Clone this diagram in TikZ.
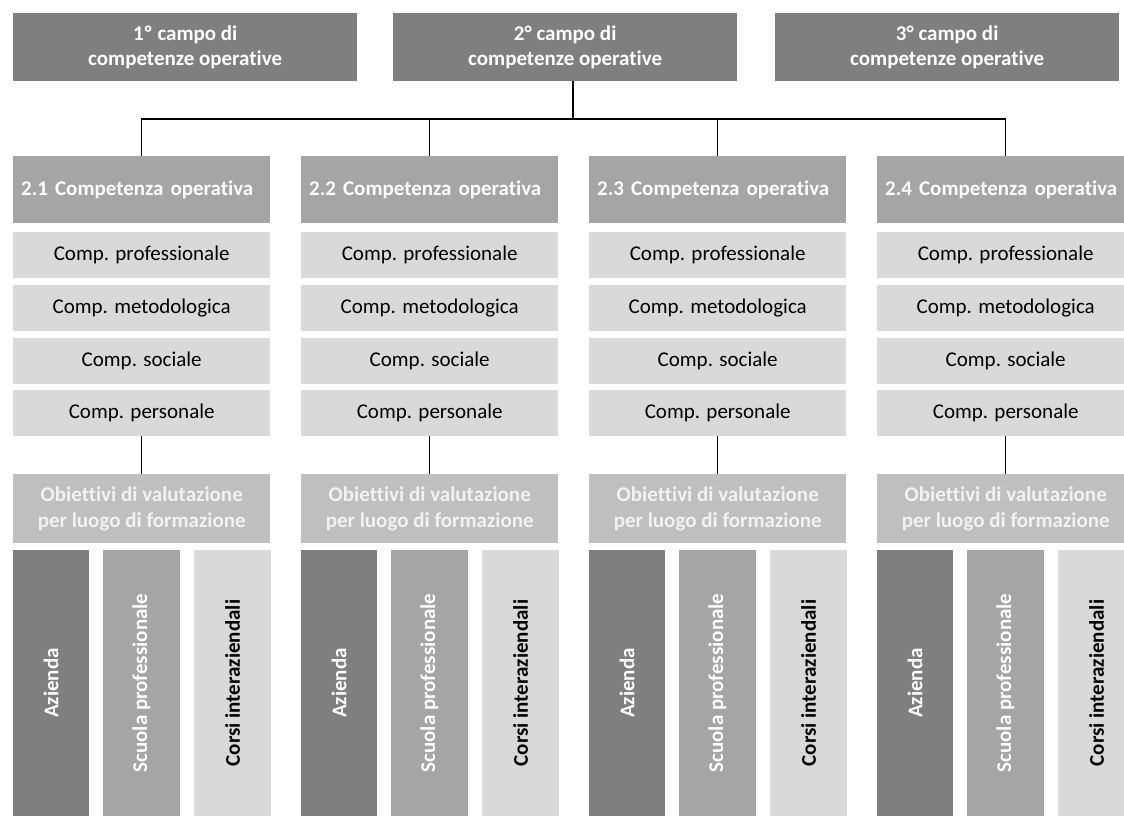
\documentclass[tikz,border=0pt]{standalone}
\usepackage{fontspec}
\setmainfont{Carlito}[Ligatures=NoCommon]
\definecolor{campogray}{HTML}{7F7F7F}
\definecolor{compgray}{HTML}{A5A5A5}
\definecolor{rowgray}{HTML}{D9D9D9}
\definecolor{obgray}{HTML}{BFBFBF}
% one column: #1 number of the competenza, #2 left edge
\newcommand{\opcolumn}[2]{%
  \node[compbox] (h#1) at (#2,156) {2.#1 Competenza operativa};
  \node[rowbox] (p#1) at (#2,232) {Comp. professionale};
  \node[rowbox] (m#1) at (#2,285) {Comp. metodologica};
  \node[rowbox] (s#1) at (#2,338) {Comp. sociale};
  \node[rowbox] (c#1) at (#2,390) {Comp. personale};
  \node[obbox] (o#1) at (#2,474) {Obiettivi di valutazione\\per luogo di formazione};
  \draw[link] (c#1) -- (o#1);
  \node[placebar, fill=campogray, text=white] (az#1) at (#2+38,683) {Azienda};
  \node[placebar, fill=compgray, text=white] (sc#1) at (#2+128.5,683) {Scuola professionale};
  \node[placebar, fill=rowgray] (ci#1) at (#2+219.5,683) {Corsi interaziendali};
}

\begin{document}
\begin{tikzpicture}[
      x=1pt, y=-1pt,
      every node/.style={rectangle, inner sep=0pt, font=\fontsize{21}{25.6}\selectfont},
      campo/.style={anchor=north west, fill=campogray, text=white, align=center,
        minimum width=344, minimum height=68, font=\fontsize{21}{25.6}\selectfont\bfseries},
      compbox/.style={anchor=north west, fill=compgray, text=white,
        inner xsep=8, text width=241, align=left,
        minimum height=67, font=\fontsize{21}{25.6}\selectfont\bfseries},
      rowbox/.style={anchor=north west, fill=rowgray, minimum width=257, minimum height=46},
      obbox/.style={anchor=north west, fill=obgray, text=white!95!black, align=center,
        minimum width=257, minimum height=69, font=\fontsize{21}{25.6}\selectfont\bfseries},
      placebar/.style={rotate=90, minimum width=266, minimum height=76.5,
        font=\fontsize{21}{25.6}\selectfont\bfseries},
      link/.style={line width=1.3pt}
    ]

    \useasboundingbox (0,0) rectangle (1124,818);
    \clip (0,0) rectangle (1124,818);

    % the three campi
    \node[campo] (f1) at (13,13) {1º campo di\\competenze operative};
    \node[campo] (f2) at (393,13) {2° campo di\\competenze operative};
    \node[campo] (f3) at (775,13) {3° campo di\\competenze operative};

    % the four competenze of the 2nd campo
    \opcolumn{1}{13}
    \opcolumn{2}{301}
    \opcolumn{3}{589}
    \opcolumn{4}{877}

    % connectors from the 2nd campo down to its competenze
    \coordinate (bus) at (573,119);
    \draw[link] (bus) -- (bus |- f2.south);
    \draw[link] (h1.north) |- (bus) -| (h4.north);
    \draw[link] (h2.north) -- (h2.north |- bus);
    \draw[link] (h3.north) -- (h3.north |- bus);
\end{tikzpicture}
\end{document}
